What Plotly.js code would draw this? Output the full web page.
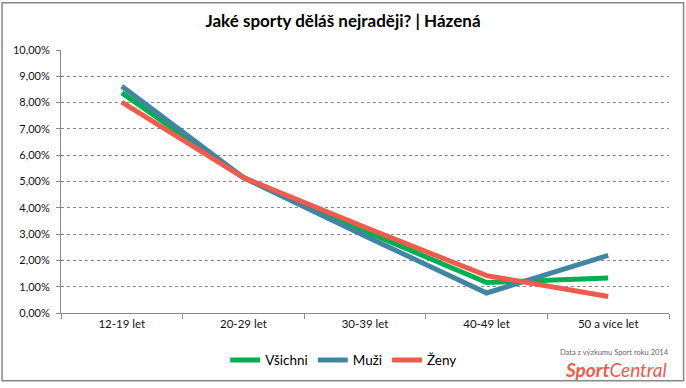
<!DOCTYPE html>
<html>
<head>
<meta charset="utf-8">
<script src="https://cdn.plot.ly/plotly-3.0.1.min.js"></script>
<style>html,body{margin:0;padding:0;background:#fff;}#chart{width:686px;height:388px;}</style>
</head>
<body>
<div id="chart"></div>
<script>
const categories = ["12-19 let", "20-29 let", "30-39 let", "40-49 let", "50 a více let"];
const vsichni = [0.0837, 0.0515, 0.0311, 0.0116, 0.0133];
const muzi = [0.0862, 0.0515, 0.0293, 0.0076, 0.0219];
const zeny = [0.0802, 0.0515, 0.0326, 0.0142, 0.0063];
const seriesNames = ["Všichni", "Muži", "Ženy"];
const seriesColors = ["#00b050", "#4185a0", "#ef5b4c"];
const yTicks = [0, 0.01, 0.02, 0.03, 0.04, 0.05, 0.06, 0.07, 0.08, 0.09, 0.10];

const font = "Lato, 'Open Sans', sans-serif";
const data = [vsichni, muzi, zeny].map((vals, i) => ({
  type: "scatter", mode: "lines", x: categories, y: vals, name: seriesNames[i],
  line: {color: seriesColors[i], width: 5}, hoverinfo: "skip"
}));

const layout = {
  width: 686, height: 388,
  margin: {l: 61, r: 17, t: 50, b: 72},
  paper_bgcolor: "#fff", plot_bgcolor: "#fff",
  separators: ", ",
  title: {text: "<b>Jaké sporty děláš nejraději? | Házená</b>", x: 0.5, xanchor: "center", y: 0.945, yanchor: "middle",
          font: {family: font, size: 17, color: "#000"}},
  font: {family: font, size: 10, color: "#111"},
  xaxis: {type: "category", tickson: "boundaries", ticks: "outside", ticklen: 5, tickcolor: "#888",
          showline: true, linecolor: "#888", linewidth: 1, showgrid: false, zeroline: false,
          tickfont: {family: font, size: 11.5, color: "#111"}, range: [-0.5, 4.5], fixedrange: true},
  yaxis: {range: [0, 0.1], tickvals: yTicks, tickformat: ".2%", ticks: "outside", ticklen: 4, tickcolor: "#888",
          showline: true, linecolor: "#888", linewidth: 1, showgrid: true, gridcolor: "#888", griddash: "dot",
          gridwidth: 1, zeroline: false, tickfont: {family: font, size: 11, color: "#111"}, ticklabelstandoff: 4},
  showlegend: true,
  legend: {orientation: "h", x: 0.465, xanchor: "center", y: -0.18, yanchor: "middle",
           font: {family: font, size: 13.5, color: "#000"}, itemwidth: 30, tracegroupgap: 0},
  shapes: [{type: "rect", xref: "paper", yref: "paper", x0: -0.097, x1: 1.024, y0: -0.258, y1: 1.18,
            line: {color: "#888", width: 1.5}, fillcolor: "rgba(0,0,0,0)"}],
  annotations: [
    {xref: "paper", yref: "paper", x: 1.003, y: -0.15, xanchor: "right", yanchor: "middle", showarrow: false,
     text: "Data z výzkumu Sport roku 2014", font: {family: font, size: 7.5, color: "#666"}},
    {xref: "paper", yref: "paper", x: 1.0, y: -0.215, xanchor: "right", yanchor: "middle", showarrow: false,
     text: "<b><i>Sport</i></b><i>Central</i>", font: {family: font, size: 19, color: "#ef5b4c"}}
  ]
};
Plotly.newPlot("chart", data, layout, {staticPlot: true, displayModeBar: false});
</script>
</body>
</html>
